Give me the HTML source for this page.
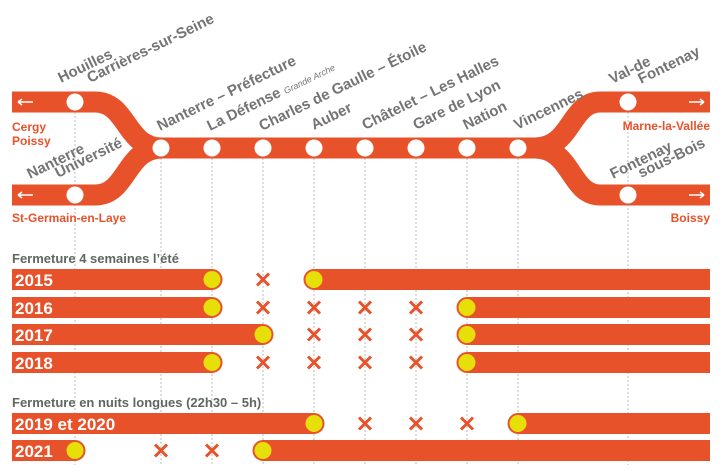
<!DOCTYPE html>
<html><head><meta charset="utf-8"><style>
html,body{margin:0;padding:0;background:#fff;}
svg{display:block;}
.st{font-family:"Liberation Sans",sans-serif;font-weight:bold;font-size:15px;fill:#747474;}
.tm{font-family:"Liberation Sans",sans-serif;font-weight:bold;font-size:12px;fill:#e8522a;}
.yr{font-family:"Liberation Sans",sans-serif;font-weight:bold;font-size:17px;fill:#fff;}
.hd{font-family:"Liberation Sans",sans-serif;font-weight:bold;font-size:13px;fill:#5d685f;}
</style></head><body>
<svg width="724" height="472" viewBox="0 0 724 472" xmlns="http://www.w3.org/2000/svg">
<g stroke="#bbb" stroke-width="1" stroke-dasharray="2,2">
<line x1="75" y1="112" x2="75" y2="465"/>
<line x1="161" y1="158" x2="161" y2="465"/>
<line x1="212" y1="158" x2="212" y2="465"/>
<line x1="263" y1="158" x2="263" y2="465"/>
<line x1="314" y1="158" x2="314" y2="465"/>
<line x1="365" y1="158" x2="365" y2="465"/>
<line x1="416" y1="158" x2="416" y2="465"/>
<line x1="467" y1="158" x2="467" y2="465"/>
<line x1="518" y1="158" x2="518" y2="465"/>
<line x1="628" y1="112" x2="628" y2="465"/>
</g>
<g fill="none" stroke="#e8522a" stroke-width="21">
<path d="M12,102 H95 C128,102 125,148 162,148"/>
<path d="M12,195 H95 C128,195 125,148 162,148"/>
<path d="M150,148 H545"/>
<path d="M535,148 C572,148 570,102 600,102 H710"/>
<path d="M535,148 C572,148 570,195 600,195 H710"/>
</g>
<g fill="#fff">
<circle cx="75" cy="102" r="8.5"/><circle cx="75" cy="195" r="8.5"/>
<circle cx="161" cy="148" r="8.5"/><circle cx="212" cy="148" r="8.5"/><circle cx="263" cy="148" r="8.5"/>
<circle cx="314" cy="148" r="8.5"/><circle cx="365" cy="148" r="8.5"/><circle cx="416" cy="148" r="8.5"/>
<circle cx="467" cy="148" r="8.5"/><circle cx="518" cy="148" r="8.5"/>
<circle cx="628" cy="102" r="8.5"/><circle cx="628" cy="195" r="8.5"/>
</g>
<g stroke="#fff" stroke-width="1.5" fill="none">
<path d="M18,102 H33 M18,102 l4,-3 M18,102 l4,3"/>
<path d="M18,195 H33 M18,195 l4,-3 M18,195 l4,3"/>
<path d="M689,102 H704 M704,102 l-4,-3 M704,102 l-4,3"/>
<path d="M689,195 H704 M704,195 l-4,-3 M704,195 l-4,3"/>
</g>
<text class="tm" x="12" y="131">Cergy</text>
<text class="tm" x="12" y="145">Poissy</text>
<text class="tm" x="12" y="222">St-Germain-en-Laye</text>
<text class="tm" x="710" y="130" text-anchor="end">Marne-la-Vallée</text>
<text class="tm" x="710" y="222" text-anchor="end">Boissy</text>
<text class="st" transform="translate(61,83) rotate(-26)">Houilles</text>
<text class="st" transform="translate(90,83) rotate(-26)">Carrières-sur-Seine</text>
<text class="st" transform="translate(30,179) rotate(-26)">Nanterre</text>
<text class="st" transform="translate(58,178) rotate(-26)">Université</text>
<text class="st" transform="translate(160,131) rotate(-26)">Nanterre – Préfecture</text>
<text class="st" transform="translate(210,131) rotate(-26)">La Défense <tspan style="font-size:9px;font-style:italic;font-weight:normal">Grande Arche</tspan></text>
<text class="st" transform="translate(262,131) rotate(-26)">Charles de Gaulle – Étoile</text>
<text class="st" transform="translate(314,130) rotate(-26)">Auber</text>
<text class="st" transform="translate(365,130) rotate(-26)">Châtelet – Les Halles</text>
<text class="st" transform="translate(416,130) rotate(-26)">Gare de Lyon</text>
<text class="st" transform="translate(466,130) rotate(-26)">Nation</text>
<text class="st" transform="translate(517,130) rotate(-26)">Vincennes</text>
<text class="st" transform="translate(612,84) rotate(-26)">Val-de</text>
<text class="st" transform="translate(641,84) rotate(-26)">Fontenay</text>
<text class="st" transform="translate(613,179) rotate(-26)">Fontenay</text>
<text class="st" transform="translate(641,178) rotate(-26)">sous-Bois</text>

<text class="hd" x="12" y="263">Fermeture 4 semaines l’été</text>
<text class="hd" x="12" y="407">Fermeture en nuits longues (22h30 – 5h)</text>
<g fill="#e8522a">
<rect x="12" y="269" width="200" height="21"/><rect x="314" y="269" width="396" height="21"/>
<rect x="12" y="297" width="200" height="21"/><rect x="467" y="297" width="243" height="21"/>
<rect x="12" y="324" width="251" height="21"/><rect x="467" y="324" width="243" height="21"/>
<rect x="12" y="352" width="200" height="21"/><rect x="467" y="352" width="243" height="21"/>
<rect x="12" y="413" width="302" height="21"/><rect x="518" y="413" width="192" height="21"/>
<rect x="12" y="440" width="63" height="21"/><rect x="263" y="440" width="447" height="21"/>
</g>
<g fill="#e6df0a" stroke="#e8522a" stroke-width="2">
<circle cx="212" cy="279.5" r="9.5"/><circle cx="314" cy="279.5" r="9.5"/>
<circle cx="212" cy="307.5" r="9.5"/><circle cx="467" cy="307.5" r="9.5"/>
<circle cx="263" cy="334.5" r="9.5"/><circle cx="467" cy="334.5" r="9.5"/>
<circle cx="212" cy="362.5" r="9.5"/><circle cx="467" cy="362.5" r="9.5"/>
<circle cx="314" cy="423.5" r="9.5"/><circle cx="518" cy="423.5" r="9.5"/>
<circle cx="75" cy="450.5" r="9.5"/><circle cx="263" cy="450.5" r="9.5"/>
</g>
<text class="yr" x="15" y="286">2015</text>
<text class="yr" x="15" y="314">2016</text>
<text class="yr" x="15" y="341">2017</text>
<text class="yr" x="15" y="369">2018</text>
<text class="yr" x="15" y="430">2019 et 2020</text>
<text class="yr" x="15" y="457">2021</text>
<g stroke="#e8522a" stroke-width="3">
<path d="M-6,-6 L6,6 M6,-6 L-6,6" transform="translate(263,279.5)"/>
<path d="M-6,-6 L6,6 M6,-6 L-6,6" transform="translate(263,307.5)"/>
<path d="M-6,-6 L6,6 M6,-6 L-6,6" transform="translate(314,307.5)"/>
<path d="M-6,-6 L6,6 M6,-6 L-6,6" transform="translate(365,307.5)"/>
<path d="M-6,-6 L6,6 M6,-6 L-6,6" transform="translate(416,307.5)"/>
<path d="M-6,-6 L6,6 M6,-6 L-6,6" transform="translate(314,334.5)"/>
<path d="M-6,-6 L6,6 M6,-6 L-6,6" transform="translate(365,334.5)"/>
<path d="M-6,-6 L6,6 M6,-6 L-6,6" transform="translate(416,334.5)"/>
<path d="M-6,-6 L6,6 M6,-6 L-6,6" transform="translate(263,362.5)"/>
<path d="M-6,-6 L6,6 M6,-6 L-6,6" transform="translate(314,362.5)"/>
<path d="M-6,-6 L6,6 M6,-6 L-6,6" transform="translate(365,362.5)"/>
<path d="M-6,-6 L6,6 M6,-6 L-6,6" transform="translate(416,362.5)"/>
<path d="M-6,-6 L6,6 M6,-6 L-6,6" transform="translate(365,423.5)"/>
<path d="M-6,-6 L6,6 M6,-6 L-6,6" transform="translate(416,423.5)"/>
<path d="M-6,-6 L6,6 M6,-6 L-6,6" transform="translate(467,423.5)"/>
<path d="M-6,-6 L6,6 M6,-6 L-6,6" transform="translate(161,450.5)"/>
<path d="M-6,-6 L6,6 M6,-6 L-6,6" transform="translate(212,450.5)"/>
</g>
</svg>
</body></html>
